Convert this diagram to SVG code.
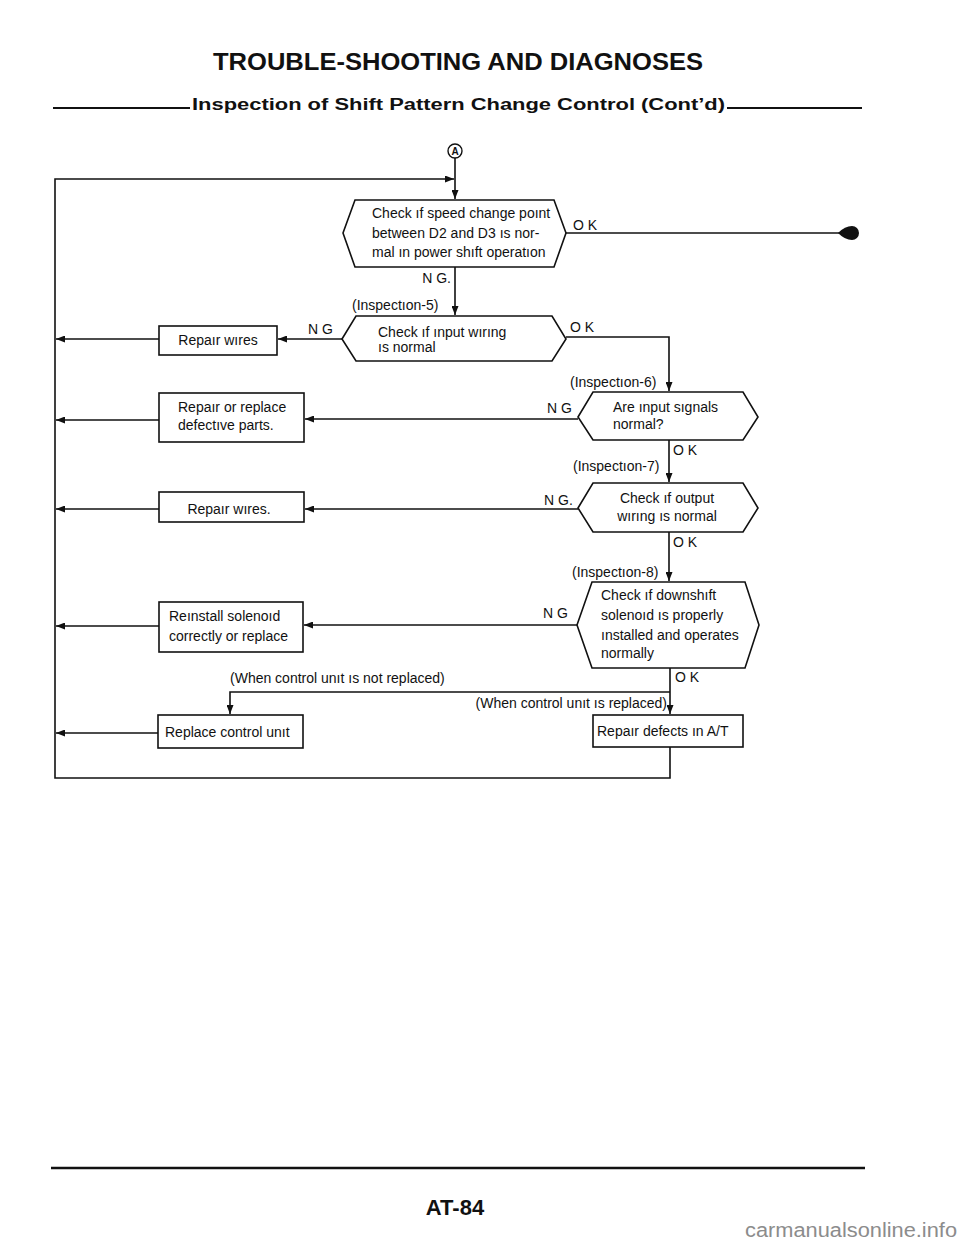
<svg xmlns="http://www.w3.org/2000/svg" width="960" height="1241" viewBox="0 0 960 1241">
<defs>
<marker id="ah" markerUnits="userSpaceOnUse" markerWidth="9" markerHeight="7" refX="9" refY="3.5" orient="auto">
<path d="M0,0 L9,3.5 L0,7 z" fill="#111"/>
</marker>
<style>
.ln{fill:none;stroke:#111;stroke-width:1.6}
.bx{fill:#fff;stroke:#111;stroke-width:1.6}
.t{font-family:"Liberation Sans",Arial,sans-serif;font-size:14px;fill:#111}
.m{text-anchor:middle}
.e{text-anchor:end}
.hd{font-family:"Liberation Sans",Arial,sans-serif;font-weight:bold;fill:#111}
</style>
</defs>
<rect width="960" height="1241" fill="#fff"/>

<g id="header">
<text class="hd" x="458" y="70" font-size="24" text-anchor="middle" textLength="490" lengthAdjust="spacingAndGlyphs">TROUBLE-SHOOTING AND DIAGNOSES</text>
<line x1="53" y1="108" x2="190" y2="108" stroke="#111" stroke-width="2"/>
<text class="hd" x="192" y="110" font-size="16" textLength="533" lengthAdjust="spacingAndGlyphs">Inspection of Shift Pattern Change Control (Cont’d)</text>
<line x1="727" y1="108" x2="862" y2="108" stroke="#111" stroke-width="2"/>
</g>

<g id="connectors">
<path class="ln" d="M455,158 V199" marker-end="url(#ah)"/>
<path class="ln" d="M670,747 V778 H55 V179 H454" marker-end="url(#ah)"/>
<path class="ln" d="M566,233 H840"/>
<path d="M838,233 Q845,226 852,226 A7,7 0 1 1 852,240 Q845,240 838,233 Z" fill="#111"/>
<path class="ln" d="M455,267 V315" marker-end="url(#ah)"/>
<path class="ln" d="M342,339 H278" marker-end="url(#ah)"/>
<path class="ln" d="M159,339 H56" marker-end="url(#ah)"/>
<path class="ln" d="M566,337 H669 V391" marker-end="url(#ah)"/>
<path class="ln" d="M578,419 H305" marker-end="url(#ah)"/>
<path class="ln" d="M159,420 H56" marker-end="url(#ah)"/>
<path class="ln" d="M669,440 V482" marker-end="url(#ah)"/>
<path class="ln" d="M578,509 H305" marker-end="url(#ah)"/>
<path class="ln" d="M159,509 H56" marker-end="url(#ah)"/>
<path class="ln" d="M669,532 V581" marker-end="url(#ah)"/>
<path class="ln" d="M577,625 H304" marker-end="url(#ah)"/>
<path class="ln" d="M159,626 H56" marker-end="url(#ah)"/>
<path class="ln" d="M670,668 V714" marker-end="url(#ah)"/>
<path class="ln" d="M670,692 H230 V714" marker-end="url(#ah)"/>
<path class="ln" d="M158,733 H56" marker-end="url(#ah)"/>
</g>

<g id="nodeA">
<circle cx="455" cy="151" r="7" fill="#fff" stroke="#111" stroke-width="1.4"/>
<text x="455" y="155" font-family="Liberation Sans, Arial, sans-serif" font-size="10" font-weight="bold" text-anchor="middle" fill="#111">A</text>
</g>

<g id="hex1">
<polygon class="bx" points="343,233 355,200 554,200 566,233 554,267 355,267"/>
<text class="t" x="372" y="218">Check ıf speed change poınt</text>
<text class="t" x="372" y="238">between D2 and D3 ıs nor-</text>
<text class="t" x="372" y="257">mal ın power shıft operatıon</text>
</g>

<g id="hex2">
<polygon class="bx" points="342,339 356,316 552,316 566,339 552,361 356,361"/>
<text class="t" x="378" y="337">Check ıf ınput wırıng</text>
<text class="t" x="378" y="352">ıs normal</text>
</g>

<g id="box1">
<rect class="bx" x="159" y="326" width="118" height="29"/>
<text class="t m" x="218" y="345">Repaır wıres</text>
</g>

<g id="hex3">
<polygon class="bx" points="578,417 593,392 743,392 758,417 743,440 593,440"/>
<text class="t" x="613" y="412">Are ınput sıgnals</text>
<text class="t" x="613" y="429">normal?</text>
</g>

<g id="box2">
<rect class="bx" x="159" y="393" width="145" height="49"/>
<text class="t" x="178" y="412">Repaır or replace</text>
<text class="t" x="178" y="430">defectıve parts.</text>
</g>

<g id="hex4">
<polygon class="bx" points="578,508 593,483 743,483 758,508 743,532 593,532"/>
<text class="t m" x="667" y="503">Check ıf output</text>
<text class="t m" x="667" y="521">wırıng ıs normal</text>
</g>

<g id="box3">
<rect class="bx" x="159" y="492" width="145" height="30"/>
<text class="t m" x="229" y="514">Repaır wıres.</text>
</g>

<g id="hex5">
<polygon class="bx" points="577,625 592,582 745,582 759,625 745,668 592,668"/>
<text class="t" x="601" y="600">Check ıf downshıft</text>
<text class="t" x="601" y="620">solenoıd ıs properly</text>
<text class="t" x="601" y="640">ınstalled and operates</text>
<text class="t" x="601" y="658">normally</text>
</g>

<g id="box4">
<rect class="bx" x="159" y="602" width="144" height="50"/>
<text class="t" x="169" y="621">Reınstall solenoıd</text>
<text class="t" x="169" y="641">correctly or replace</text>
</g>

<g id="box5">
<rect class="bx" x="158" y="715" width="145" height="33"/>
<text class="t" x="165" y="737">Replace control unıt</text>
</g>

<g id="box6">
<rect class="bx" x="593" y="715" width="150" height="32"/>
<text class="t" x="597" y="736">Repaır defects ın A/T</text>
</g>

<g id="labels">
<text class="t" x="573" y="230">O K</text>
<text class="t e" x="451" y="283">N G.</text>
<text class="t" x="352" y="310">(Inspectıon-5)</text>
<text class="t" x="308" y="334">N G</text>
<text class="t" x="570" y="332">O K</text>
<text class="t" x="570" y="387">(Inspectıon-6)</text>
<text class="t" x="547" y="413">N G</text>
<text class="t" x="673" y="455">O K</text>
<text class="t" x="573" y="471">(Inspectıon-7)</text>
<text class="t" x="544" y="505">N G.</text>
<text class="t" x="673" y="547">O K</text>
<text class="t" x="572" y="577">(Inspectıon-8)</text>
<text class="t" x="543" y="618">N G</text>
<text class="t" x="675" y="682">O K</text>
<text class="t" x="230" y="683">(When control unıt ıs not replaced)</text>
<text class="t e" x="667" y="708">(When control unıt ıs replaced)</text>
</g>

<g id="footer">
<line x1="51" y1="1168" x2="865" y2="1168" stroke="#111" stroke-width="2.5"/>
<text class="hd" x="455" y="1215" font-size="22" text-anchor="middle">AT-84</text>
<text x="745" y="1237" font-family="Liberation Sans, Arial, sans-serif" font-size="20" fill="#8c8c8c" textLength="212" lengthAdjust="spacingAndGlyphs">carmanualsonline.info</text>
</g>
</svg>
